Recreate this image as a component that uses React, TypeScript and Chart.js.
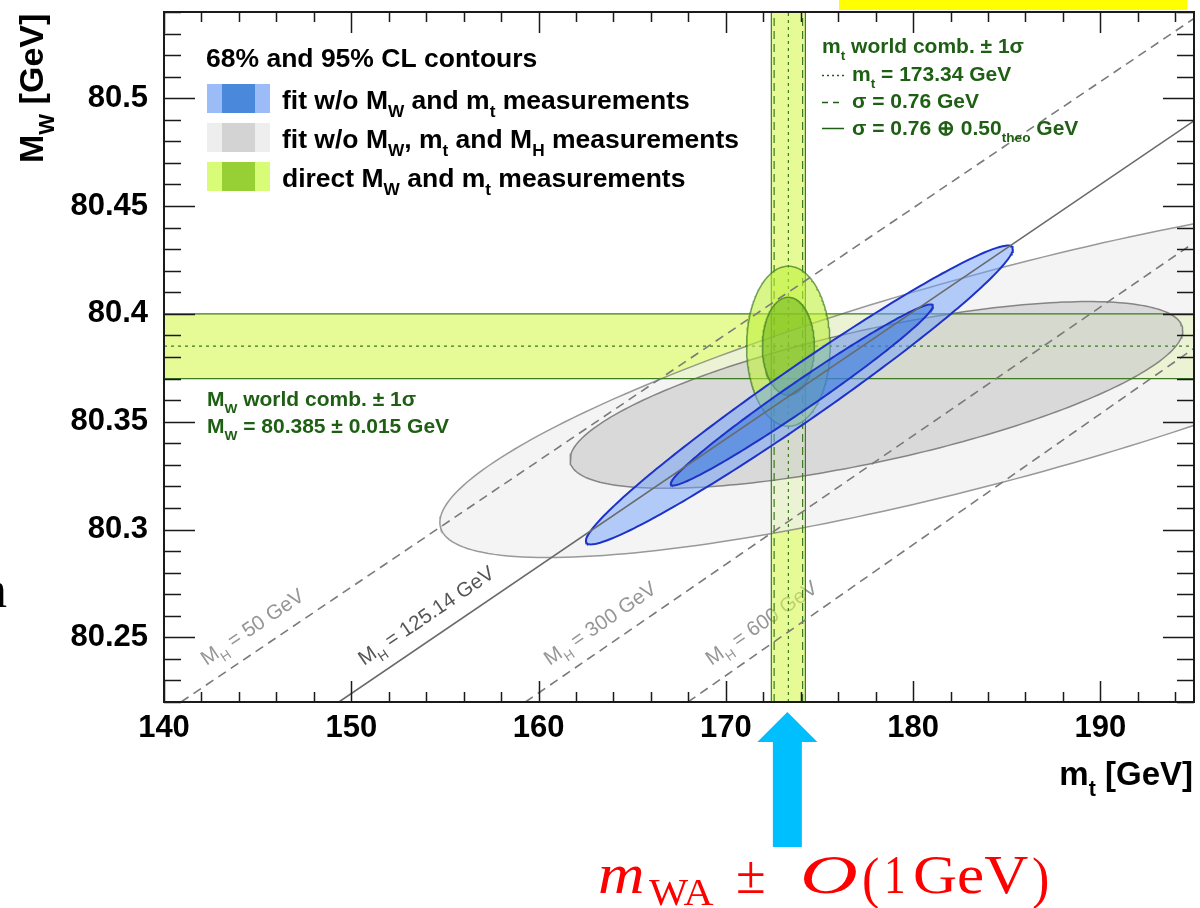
import React, { useEffect, useRef } from 'react';
import { Chart, registerables } from 'chart.js';

Chart.register(...registerables);

const SANS = '"Liberation Sans", Arial, Helvetica, sans-serif';
const SERIF = '"Liberation Serif", "Times New Roman", serif';

// ---- axes ----
const mtRange = [140, 195];
const mwRange = [80.22, 80.54];
const xTickValues = [140, 150, 160, 170, 180, 190];
const xTickLabels = ['140', '150', '160', '170', '180', '190'];
const yTickValues = [80.25, 80.3, 80.35, 80.4, 80.45, 80.5];
const yTickLabels = ['80.25', '80.3', '80.35', '80.4', '80.45', '80.5'];
const xMinorStep = 2;
const yMinorStep = 0.01;

// ---- world combinations ----
const mwWorld = [80.385, 0.015]; // value, sigma
const mtWorld = [173.34, 0.76, 0.5]; // value, experimental sigma, theory sigma

// ---- fit / measurement contours (95% and 68% CL) ----
const contourNames = ['grey95', 'grey68', 'green95', 'green68', 'blue95', 'blue68'];
const contourMt = [184.63, 178.04, 173.34, 173.34, 173.93, 174.06];
const contourMw = [80.3714, 80.3624, 80.385, 80.385, 80.3624, 80.3624];
const contourHalfMt = [29.9, 16.36, 2.23, 1.39, 11.4, 7.0];
const contourHalfMw = [0.0844, 0.0433, 0.0371, 0.0227, 0.0693, 0.042];
const contourCorr = [0.807, 0.69, 0, 0, 0.9768, 0.9822];

// ---- SM prediction lines for fixed M_H ----
const mhLabels = ['50', '125.14', '300', '600'];
const mhLineStartMt = [140.91, 149.34, 159.3, 167.98]; // at lower MW edge
const mhLineEndMw = [80.537, 80.4895, 80.433, 80.384]; // at upper mt edge

// ---- styles ----
const contourFill: Record<string, string> = {
  grey95: 'rgba(240,240,240,0.7)',
  grey68: 'rgba(200,200,200,0.6)',
  green95: 'rgba(190,240,60,0.6)',
  green68: 'rgba(115,185,30,0.6)',
  blue95: 'rgba(110,160,250,0.5)',
  blue68: 'rgba(40,110,220,0.5)',
};
const contourLine: Record<string, [string, number]> = {
  grey95: ['rgba(120,120,120,0.75)', 1.5],
  grey68: ['rgba(100,100,100,0.75)', 1.5],
  green95: ['rgba(60,120,30,0.7)', 1.5],
  green68: ['rgba(60,120,30,0.7)', 1.5],
  blue95: ['#1e32c8', 2],
  blue68: ['#1e32c8', 2],
};
const BAND_FILL = 'rgba(213,247,80,0.6)';
const BAND_LINE = '#3d7a22';
const TEXT_GREEN = '#1e5f14';

type Pt = { x: number; y: number };
type Part = [string, boolean?];

function contourPoints(i: number): Pt[] {
  const cx = contourMt[i], cy = contourMw[i];
  const hx = contourHalfMt[i], hy = contourHalfMw[i], r = contourCorr[i];
  const s = Math.sqrt(1 - r * r);
  const pts: Pt[] = [];
  const n = 240;
  for (let k = 0; k <= n; k++) {
    const t = (2 * Math.PI * k) / n;
    pts.push({ x: cx + hx * Math.cos(t), y: cy + hy * (r * Math.cos(t) + s * Math.sin(t)) });
  }
  return pts;
}

function drawRich(ctx: CanvasRenderingContext2D, parts: Part[], x: number, y: number, size: number, weight: string, color: string): number {
  let cx = x;
  ctx.fillStyle = color;
  ctx.textAlign = 'left';
  ctx.textBaseline = 'alphabetic';
  for (const [txt, sub] of parts) {
    const fs = sub ? size * 0.65 : size;
    ctx.font = `${weight} ${fs}px ${SANS}`;
    ctx.fillText(txt, cx, y + (sub ? size * 0.32 : 0));
    cx += ctx.measureText(txt).width;
  }
  return cx - x;
}

function richWidth(ctx: CanvasRenderingContext2D, parts: Part[], size: number, weight: string): number {
  let w = 0;
  for (const [txt, sub] of parts) {
    ctx.font = `${weight} ${sub ? size * 0.65 : size}px ${SANS}`;
    w += ctx.measureText(txt).width;
  }
  return w;
}

const overlay = {
  id: 'overlay',
  beforeDatasetsDraw(chart: any) {
    const ctx: CanvasRenderingContext2D = chart.ctx;
    const xs = chart.scales.x, ys = chart.scales.y;
    const { bottom } = chart.chartArea;
    // M_H labels along the SM lines
    ctx.save();
    mhLabels.forEach((lab, i) => {
      const x0 = xs.getPixelForValue(mhLineStartMt[i]);
      const y0 = ys.getPixelForValue(mwRange[0]);
      const x1 = xs.getPixelForValue(mtRange[1]);
      const y1 = ys.getPixelForValue(mhLineEndMw[i]);
      const ang = Math.atan2(y1 - y0, x1 - x0);
      const ay = bottom - 36;
      const ax = x0 + ((ay - y0) * (x1 - x0)) / (y1 - y0) - 28;
      ctx.save();
      ctx.translate(ax, ay);
      ctx.rotate(ang);
      const col = lab === '125.14' ? '#555555' : '#969696';
      drawRich(ctx, [['M'], ['H', true], [` = ${lab} GeV`]], 0, 0, 20.5, 'normal', col);
      ctx.restore();
    });
    ctx.restore();
  },
  afterDatasetsDraw(chart: any) {
    const ctx: CanvasRenderingContext2D = chart.ctx;
    const xs = chart.scales.x, ys = chart.scales.y;
    const { left, right, top, bottom } = chart.chartArea;
    ctx.save();
    // ticks on all four sides, pointing inwards
    ctx.strokeStyle = '#1a1a1a';
    ctx.lineWidth = 1.5;
    ctx.beginPath();
    const nx = Math.round((mtRange[1] - mtRange[0]) / xMinorStep);
    for (let k = 0; k <= nx; k++) {
      const v = mtRange[0] + k * xMinorStep;
      const major = xTickValues.includes(v);
      const p = Math.round(xs.getPixelForValue(v)) + 0.5;
      const len = major ? 21 : 10;
      ctx.moveTo(p, bottom); ctx.lineTo(p, bottom - len);
      ctx.moveTo(p, top); ctx.lineTo(p, top + len);
    }
    const k0 = Math.ceil(mwRange[0] / yMinorStep - 1e-6);
    const k1 = Math.floor(mwRange[1] / yMinorStep + 1e-6);
    for (let k = k0; k <= k1; k++) {
      const v = k * yMinorStep;
      const major = k % 5 === 0;
      const p = Math.round(ys.getPixelForValue(v)) + 0.5;
      const len = major ? 31 : 17;
      ctx.moveTo(left, p); ctx.lineTo(left + len, p);
      ctx.moveTo(right, p); ctx.lineTo(right - len, p);
    }
    ctx.stroke();
    ctx.lineWidth = 2;
    ctx.strokeRect(left, top, right - left, bottom - top);

    // legend
    drawRich(ctx, [['68% and 95% CL contours']], 206, 67, 26.5, 'bold', '#000');
    const rows: { outer: string; inner: string; parts: Part[] }[] = [
      { outer: '#9cbcf8', inner: '#4a88dc', parts: [['fit w/o M'], ['W', true], [' and m'], ['t', true], [' measurements']] },
      { outer: '#eeeeee', inner: '#d3d3d3', parts: [['fit w/o M'], ['W', true], [', m'], ['t', true], [' and M'], ['H', true], [' measurements']] },
      { outer: '#d8fc78', inner: '#96d035', parts: [['direct M'], ['W', true], [' and m'], ['t', true], [' measurements']] },
    ];
    rows.forEach((r, i) => {
      const y0 = 84 + i * 39;
      ctx.fillStyle = r.outer;
      ctx.fillRect(207, y0, 63, 29);
      ctx.fillStyle = r.inner;
      ctx.fillRect(222, y0, 33, 29);
      drawRich(ctx, r.parts, 282, y0 + 25, 26.5, 'bold', '#000');
    });

    // m_t world combination text
    const gx = 822;
    drawRich(ctx, [['m'], ['t', true], [' world comb. \u00b1 1\u03c3']], gx, 53, 21, 'bold', TEXT_GREEN);
    drawRich(ctx, [['m'], ['t', true], [` = ${mtWorld[0].toFixed(2)} GeV`]], gx + 30, 81, 21, 'bold', TEXT_GREEN);
    drawRich(ctx, [[`\u03c3 = ${mtWorld[1].toFixed(2)} GeV`]], gx + 30, 108, 21, 'bold', TEXT_GREEN);
    drawRich(ctx, [[`\u03c3 = ${mtWorld[1].toFixed(2)} \u2295 ${mtWorld[2].toFixed(2)}`], ['theo', true], [' GeV']], gx + 30, 135, 21, 'bold', TEXT_GREEN);
    ctx.strokeStyle = TEXT_GREEN;
    ctx.lineWidth = 1.5;
    const sample = (y: number, dash: number[]) => {
      ctx.setLineDash(dash);
      ctx.beginPath(); ctx.moveTo(gx, y); ctx.lineTo(gx + 22, y); ctx.stroke();
    };
    sample(75.5, [2, 3]);
    sample(102.5, [6, 5]);
    sample(128.5, []);
    ctx.setLineDash([]);

    // M_W world combination text
    drawRich(ctx, [['M'], ['W', true], [' world comb. \u00b1 1\u03c3']], 207, 406, 21, 'bold', TEXT_GREEN);
    drawRich(ctx, [['M'], ['W', true], [` = ${mwWorld[0].toFixed(3)} \u00b1 ${mwWorld[1].toFixed(3)} GeV`]], 207, 433, 21, 'bold', TEXT_GREEN);
    ctx.restore();
  },
  afterDraw(chart: any) {
    const ctx: CanvasRenderingContext2D = chart.ctx;
    const xs = chart.scales.x;
    ctx.save();
    // axis titles
    ctx.save();
    ctx.translate(43, 163);
    ctx.rotate(-Math.PI / 2);
    drawRich(ctx, [['M'], ['W', true], [' [GeV]']], 0, 0, 34, 'bold', '#000');
    ctx.restore();
    const xt: Part[] = [['m'], ['t', true], [' [GeV]']];
    const w = richWidth(ctx, xt, 33, 'bold');
    drawRich(ctx, xt, 1193 - w, 785, 33, 'bold', '#000');

    // highlight bar at the top
    ctx.fillStyle = '#ffff00';
    ctx.fillRect(839, 0, 348, 10);

    // arrow pointing to the m_t world average
    const ax = xs.getPixelForValue(mtWorld[0]) - 1;
    ctx.fillStyle = '#00bfff';
    ctx.beginPath();
    ctx.moveTo(ax, 712);
    ctx.lineTo(ax + 30, 742);
    ctx.lineTo(ax + 14.5, 742);
    ctx.lineTo(ax + 14.5, 847);
    ctx.lineTo(ax - 14.5, 847);
    ctx.lineTo(ax - 14.5, 742);
    ctx.lineTo(ax - 30, 742);
    ctx.closePath();
    ctx.fill();

    // m_WA ± O(1 GeV)
    const pieces: { t: string; x: number; y: number; size: number; style: string; sx: number }[] = [
      { t: 'm', x: 598, y: 893, size: 56, style: 'italic', sx: 1.15 },
      { t: 'WA', x: 649, y: 905, size: 37, style: 'normal', sx: 1.12 },
      { t: '\u00b1', x: 736, y: 893, size: 54, style: 'normal', sx: 1 },
      { t: 'O', x: 800, y: 893, size: 54, style: 'italic', sx: 1.48 },
      { t: '(', x: 862, y: 897, size: 58, style: 'normal', sx: 0.9 },
      { t: '1', x: 884, y: 893, size: 54, style: 'normal', sx: 0.8 },
      { t: 'GeV', x: 913, y: 893, size: 54, style: 'normal', sx: 1.13 },
      { t: ')', x: 1032, y: 897, size: 58, style: 'normal', sx: 0.9 },
    ];
    ctx.fillStyle = '#ff0000';
    ctx.textAlign = 'left';
    ctx.textBaseline = 'alphabetic';
    for (const p of pieces) {
      ctx.save();
      ctx.translate(p.x, p.y);
      ctx.scale(p.sx, 1);
      ctx.font = `${p.style} ${p.size}px ${SERIF}`;
      ctx.fillText(p.t, 0, 0);
      ctx.restore();
    }

    // clipped letter at the left margin
    ctx.fillStyle = '#000';
    ctx.font = `normal 52px ${SERIF}`;
    ctx.fillText('n', -19, 607);
    ctx.restore();
  },
};

function shape(data: Pt[], fill: string, order: number, border?: [string, number]) {
  return {
    type: 'scatter',
    data,
    showLine: true,
    fill: 'shape',
    backgroundColor: fill,
    borderColor: border ? border[0] : 'rgba(0,0,0,0)',
    borderWidth: border ? border[1] : 0,
    pointRadius: 0,
    tension: 0,
    order,
  };
}

function line(data: Pt[], color: string, width: number, dash: number[], order: number) {
  return {
    type: 'scatter',
    data,
    showLine: true,
    fill: false,
    borderColor: color,
    borderWidth: width,
    borderDash: dash,
    pointRadius: 0,
    tension: 0,
    order,
  };
}

function buildDatasets() {
  const ds: any[] = [];
  let order = 1000;
  const [mtLo, mtHi] = mtRange;
  const [mwLo, mwHi] = mwRange;
  const mwA = mwWorld[0] - mwWorld[1], mwB = mwWorld[0] + mwWorld[1];
  const mtTot = Math.sqrt(mtWorld[1] ** 2 + mtWorld[2] ** 2);
  const mtA = mtWorld[0] - mtTot, mtB = mtWorld[0] + mtTot;

  // measurement bands
  ds.push(shape([{ x: mtLo, y: mwA }, { x: mtHi, y: mwA }, { x: mtHi, y: mwB }, { x: mtLo, y: mwB }, { x: mtLo, y: mwA }], BAND_FILL, order--));
  ds.push(shape([{ x: mtA, y: mwLo }, { x: mtB, y: mwLo }, { x: mtB, y: mwHi }, { x: mtA, y: mwHi }, { x: mtA, y: mwLo }], BAND_FILL, order--));

  // indirect fit without M_H (grey)
  [0, 1].forEach((i) => ds.push(shape(contourPoints(i), contourFill[contourNames[i]], order--, contourLine[contourNames[i]])));

  // band edges
  ds.push(line([{ x: mtLo, y: mwA }, { x: mtHi, y: mwA }], BAND_LINE, 1.2, [], order--));
  ds.push(line([{ x: mtLo, y: mwB }, { x: mtHi, y: mwB }], BAND_LINE, 1.2, [], order--));
  ds.push(line([{ x: mtLo, y: mwWorld[0] }, { x: mtHi, y: mwWorld[0] }], BAND_LINE, 1.2, [3, 4], order--));
  ds.push(line([{ x: mtA, y: mwLo }, { x: mtA, y: mwHi }], BAND_LINE, 1.2, [], order--));
  ds.push(line([{ x: mtB, y: mwLo }, { x: mtB, y: mwHi }], BAND_LINE, 1.2, [], order--));
  ds.push(line([{ x: mtWorld[0] - mtWorld[1], y: mwLo }, { x: mtWorld[0] - mtWorld[1], y: mwHi }], BAND_LINE, 1.2, [8, 5], order--));
  ds.push(line([{ x: mtWorld[0] + mtWorld[1], y: mwLo }, { x: mtWorld[0] + mtWorld[1], y: mwHi }], BAND_LINE, 1.2, [8, 5], order--));
  ds.push(line([{ x: mtWorld[0], y: mwLo }, { x: mtWorld[0], y: mwHi }], BAND_LINE, 1.2, [3, 4], order--));

  // direct measurements (green), then fit without M_W and m_t (blue)
  [2, 3, 4, 5].forEach((i) => ds.push(shape(contourPoints(i), contourFill[contourNames[i]], order--, contourLine[contourNames[i]])));

  // SM lines
  mhLabels.forEach((lab, i) => {
    const solid = lab === '125.14';
    ds.push(line([{ x: mhLineStartMt[i], y: mwLo }, { x: mtHi, y: mhLineEndMw[i] }], solid ? '#6a6a6a' : '#7a7a7a', 1.6, solid ? [] : [9, 6], order--));
  });
  return ds;
}

export default function App() {
  const ref = useRef<HTMLCanvasElement>(null);

  useEffect(() => {
    const canvas = ref.current;
    if (!canvas) return;
    const tickFont = { family: SANS, size: 31, weight: 'bold' as const };
    const chart = new Chart(canvas, {
      type: 'scatter',
      data: { datasets: buildDatasets() },
      plugins: [overlay],
      options: {
        animation: false,
        responsive: false,
        events: [],
        layout: { padding: { top: 12, right: 6, left: 0, bottom: 0 } },
        plugins: {
          legend: { display: false },
          tooltip: { enabled: false },
        },
        scales: {
          x: {
            type: 'linear',
            position: 'bottom',
            min: mtRange[0],
            max: mtRange[1],
            grid: { display: false, drawTicks: false },
            border: { display: false },
            ticks: {
              padding: 8,
              autoSkip: false,
              maxRotation: 0,
              font: tickFont,
              color: '#000',
              callback: (_v: any, i: number) => xTickLabels[i],
            },
            afterBuildTicks: (s: any) => {
              s.ticks = xTickValues.map((v) => ({ value: v }));
            },
            afterFit: (s: any) => {
              s.height = 206;
              s.paddingLeft = 0;
              s.paddingRight = 0;
            },
          },
          y: {
            type: 'linear',
            position: 'left',
            min: mwRange[0],
            max: mwRange[1],
            grid: { display: false, drawTicks: false },
            border: { display: false },
            ticks: {
              padding: 16,
              autoSkip: false,
              font: tickFont,
              color: '#000',
              callback: (_v: any, i: number) => yTickLabels[i],
            },
            afterBuildTicks: (s: any) => {
              s.ticks = yTickValues.map((v) => ({ value: v }));
            },
            afterFit: (s: any) => {
              s.width = 164;
              s.paddingTop = 0;
              s.paddingBottom = 0;
            },
          },
        },
      } as any,
    } as any);
    return () => chart.destroy();
  }, []);

  return (
    <div style={{ position: 'fixed', left: 0, top: 0, width: 1200, height: 908, background: '#fff' }}>
      <canvas ref={ref} width={1200} height={908} style={{ display: 'block' }} />
    </div>
  );
}
